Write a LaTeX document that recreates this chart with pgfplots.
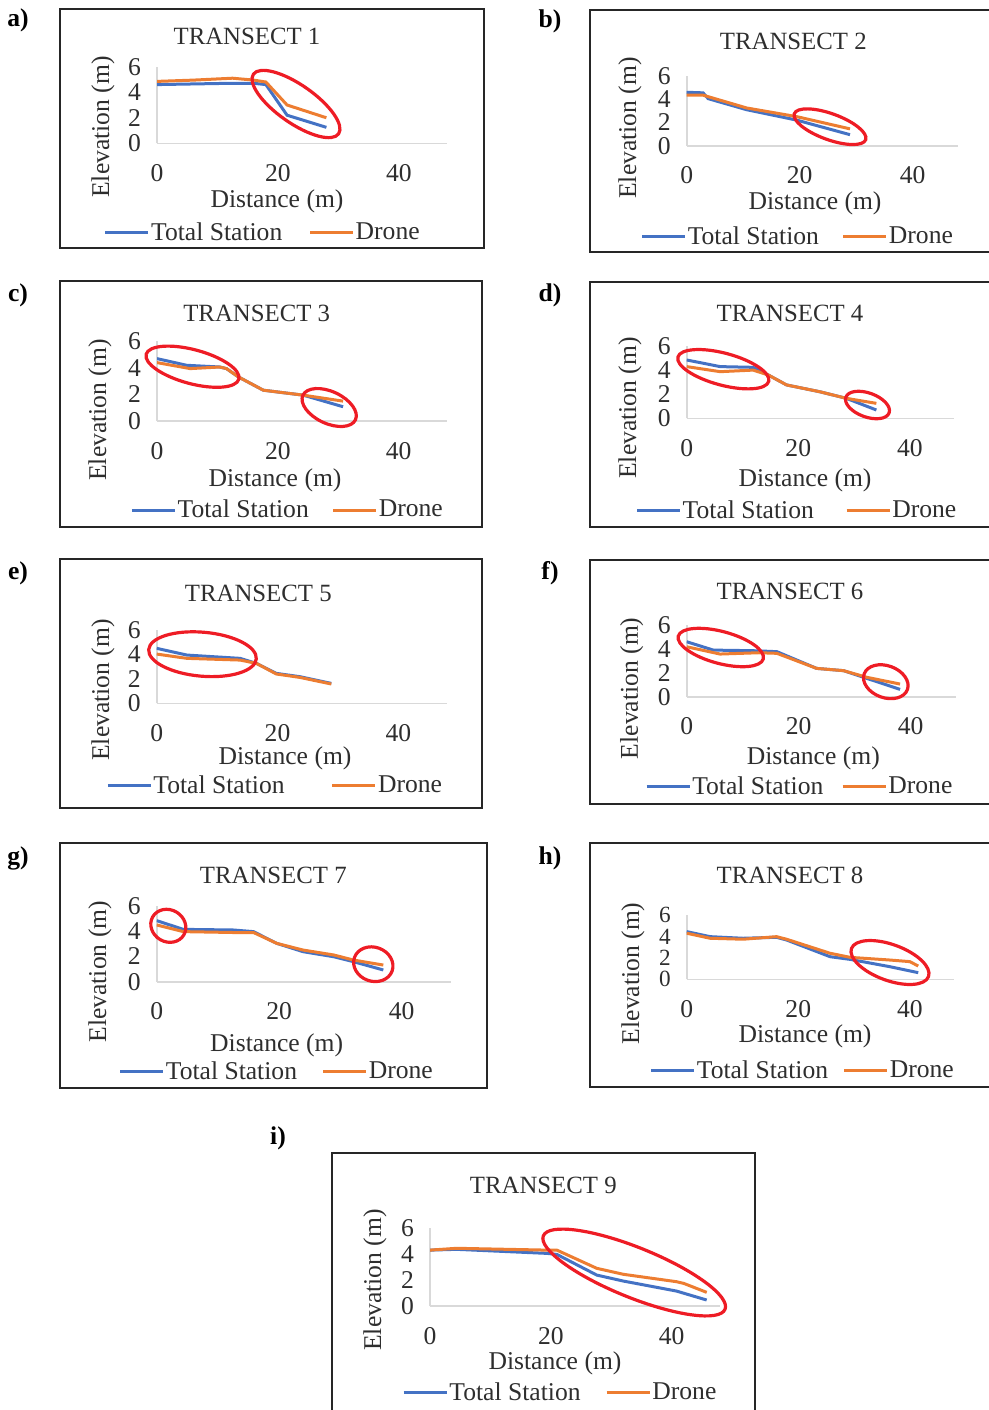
\documentclass[border=0pt]{standalone}
\usepackage{pgfplots}
\pgfplotsset{compat=1.18}
\usepackage{fontspec}
\setmainfont{Liberation Serif}
\definecolor{tsblue}{HTML}{4472C4}
\definecolor{drorange}{HTML}{ED7D31}
\definecolor{txt}{HTML}{2E2E2E}
\definecolor{axgray}{HTML}{D9D9D9}
\definecolor{ellred}{HTML}{EE1C25}
\newcommand{\fs}{\fontsize{12.8}{14}\selectfont}
\pgfplotsset{
 tr/.style={
  scale only axis, anchor=south west,
  xmin=0,xmax=48,ymin=0,ymax=6,
  xtick={0,20,40}, xticklabels={0,20,40},
  ytick={0,2,4,6}, yticklabels={0,2,4,6},
  axis x line*=bottom, axis y line*=left,
  axis line style={draw=axgray, line width=0.8pt, -},
  x axis line style={-}, y axis line style={-},
  major tick length=0pt, tick style={draw=none},
  ticklabel style={font=\fs, text=txt},
  yticklabel style={xshift=-4.5pt, inner ysep=0pt},
  xticklabel style={yshift=-7pt},
  legend columns=2,
  legend style={draw=none, fill=none, font=\fs, text=txt, anchor=center, inner sep=0pt,
    nodes={inner xsep=0.6pt}},
  legend image code/.code={\draw[##1, line width=1.5pt] (0pt,0pt) -- (21.5pt,0pt);},
  every axis plot/.append style={line width=1.5pt, no markers},
 },
 ts/.style={color=tsblue},
 dr/.style={color=drorange},
}
\begin{document}
\begin{tikzpicture}
\useasboundingbox (0,0) rectangle (494.5pt,-705pt);
% ---------- a
\begin{axis}[tr, at={(78.5pt,-71.65pt)}, width=145.2pt, height=38.3pt,
 legend style={at={(0.363,-1.171)}, /tikz/every even column/.append style={column sep=12.5pt}}]
\addplot[ts] coordinates {(0,4.6) (6,4.65) (12,4.7) (16,4.7) (18,4.6) (21.5,2.2) (28,1.25)};
\addplot[dr] coordinates {(0,4.85) (6,4.95) (12.5,5.1) (16,4.95) (18,4.8) (21.5,3.0) (28,2.0)};
\legend{Total Station, Drone}
\end{axis}
% ---------- b
\begin{axis}[tr, at={(343.35pt,-72.85pt)}, width=135.6pt, height=34.85pt,
 legend style={at={(0.408,-1.306)}, /tikz/every even column/.append style={column sep=10.8pt}}]
\addplot[ts] coordinates {(0,4.6) (2.9,4.55) (3.8,4.05) (10.6,3.1) (19.5,2.2) (28.9,0.95)};
\addplot[dr] coordinates {(0,4.35) (2.9,4.35) (10.6,3.25) (19.5,2.5) (28.9,1.45)};
\legend{Total Station, Drone}
\end{axis}
% ---------- c
\begin{axis}[tr, at={(78.5pt,-210.5pt)}, width=145pt, height=40pt,
 legend style={at={(0.449,-1.1125)}, /tikz/every even column/.append style={column sep=10.8pt}}]
\addplot[ts] coordinates {(0,4.68) (4.9,4.18) (10.4,4.05) (11.5,3.93) (13.5,3.3) (17.6,2.31) (24.2,1.94) (30.8,1.07)};
\addplot[dr] coordinates {(0,4.38) (5.5,3.93) (10.4,4.05) (11.5,3.93) (13.5,3.3) (17.6,2.31) (24.2,1.94) (30.8,1.49)};
\legend{Total Station, Drone}
\end{axis}
% ---------- d
\begin{axis}[tr, at={(343.35pt,-209.15pt)}, width=133.9pt, height=36.15pt,
 legend style={at={(0.410,-1.278)}, /tikz/every even column/.append style={column sep=15pt}}]
\addplot[ts] coordinates {(0,4.84) (6,4.29) (11.9,4.23) (14.6,3.6) (17.9,2.77) (23.9,2.2) (28.6,1.66) (34,0.69)};
\addplot[dr] coordinates {(0,4.29) (6,3.87) (11.9,4.0) (14.6,3.6) (17.9,2.77) (23.9,2.2) (28.6,1.66) (34,1.24)};
\legend{Total Station, Drone}
\end{axis}
% ---------- e
\begin{axis}[tr, at={(78.35pt,-351.65pt)}, width=145pt, height=36.65pt,
 legend style={at={(0.407,-1.128)}, /tikz/every even column/.append style={column sep=22.5pt}}]
\addplot[ts] coordinates {(0,4.5) (5,3.95) (13.8,3.68) (16.5,3.27) (19.8,2.45) (23.7,2.18) (28.9,1.63)};
\addplot[dr] coordinates {(0,4.03) (5,3.68) (13.8,3.54) (16.5,3.27) (19.8,2.4) (23.7,2.12) (28.9,1.58)};
\legend{Total Station, Drone}
\end{axis}
% ---------- f
\begin{axis}[tr, at={(343.35pt,-348.35pt)}, width=134.4pt, height=35.85pt,
 legend style={at={(0.419,-1.255)}, /tikz/every even column/.append style={column sep=8.3pt}}]
\addplot[ts] coordinates {(0,4.6) (4.76,3.9) (11.9,3.85) (16.1,3.77) (23.2,2.37) (28,2.18) (32.2,1.53) (38.1,0.61)};
\addplot[dr] coordinates {(0,4.18) (5.95,3.57) (12.9,3.68) (16.1,3.63) (23.2,2.37) (28,2.18) (32.2,1.62) (38.1,1.06)};
\legend{Total Station, Drone}
\end{axis}
% ---------- g
\begin{axis}[tr, at={(78.35pt,-490.85pt)}, width=147pt, height=37.85pt,
 legend style={at={(0.407,-1.189)}, /tikz/every even column/.append style={column sep=11.7pt}}]
\addplot[ts] coordinates {(0,4.84) (4.35,4.15) (12.5,4.1) (15.8,3.97) (19.6,3.04) (23.9,2.38) (28.9,1.98) (32.1,1.59) (37,0.93)};
\addplot[dr] coordinates {(0,4.5) (4.35,3.97) (12.5,3.9) (15.8,3.9) (19.6,3.04) (23.9,2.51) (28.9,2.12) (32.1,1.72) (37,1.32)};
\legend{Total Station, Drone}
\end{axis}
% ---------- h
\begin{axis}[tr, at={(343.35pt,-489.65pt)}, width=133.9pt, height=32.15pt,
 yticklabel style={font=\fontsize{11.6}{12}\selectfont},
 legend style={at={(0.432,-1.421)}, /tikz/every even column/.append style={column sep=6.7pt}}]
\addplot[ts] coordinates {(0,4.45) (4.2,3.98) (10.1,3.83) (16.1,3.92) (17.9,3.67) (25.7,2.11) (29.3,1.86) (36.4,1.18) (41.5,0.62)};
\addplot[dr] coordinates {(0,4.3) (4.2,3.83) (10.1,3.74) (16.1,3.98) (17.9,3.74) (25.7,2.43) (29.3,2.05) (36.4,1.8) (40,1.65) (41.5,1.24)};
\legend{Total Station, Drone}
\end{axis}
% ---------- i
\begin{axis}[tr, at={(215pt,-653pt)}, width=145pt, height=39pt,
 legend style={at={(0.448,-1.111)}, /tikz/every even column/.append style={column sep=11.7pt}}]
\addplot[ts] coordinates {(0,4.3) (4.4,4.36) (19.3,4.05) (21,3.97) (27.6,2.38) (32,1.92) (40.8,1.15) (45.8,0.46)};
\addplot[dr] coordinates {(0,4.3) (4.4,4.44) (19.3,4.3) (21,4.3) (27.6,2.9) (32,2.44) (40.8,1.87) (42,1.74) (45.8,1.05)};
\legend{Total Station, Drone}
\end{axis}
% ---------- annotations in pixel units
\begin{scope}[x=0.5pt,y=-0.5pt]
\tikzset{box/.style={draw=black!85, line width=1pt},
 ttl/.style={font=\fontsize{12.4}{14}\selectfont, text=txt},
 lab/.style={font=\fs, text=txt},
 pl/.style={font=\fs\bfseries, text=black},
 ell/.style={draw=ellred, line width=1.6pt}}
\draw[box] (59.5,9) rectangle (483.5,248);
\draw[box] (590,10) rectangle (1000,252);
\draw[box] (59.5,281) rectangle (481.7,526.7);
\draw[box] (589.5,281.7) rectangle (1000,526.7);
\draw[box] (59.5,559.3) rectangle (481.7,808.3);
\draw[box] (589.5,560) rectangle (1000,804);
\draw[box] (59.5,843.3) rectangle (486.7,1088.3);
\draw[box] (590,843.3) rectangle (1000,1086.7);
\draw[box] (331.7,1153.3) rectangle (755,1420);
% panel letters
\node[pl] at (18,20) {a)};
\node[pl] at (550,21.7) {b)};
\node[pl] at (18,295) {c)};
\node[pl] at (550,295) {d)};
\node[pl] at (18,573) {e)};
\node[pl] at (550,573) {f)};
\node[pl] at (18,858) {g)};
\node[pl] at (550,858) {h)};
\node[pl] at (278,1138) {i)};
% titles
\node[ttl] at (247,36) {TRANSECT 1};
\node[ttl] at (793.3,41.7) {TRANSECT 2};
\node[ttl] at (256.7,313.3) {TRANSECT 3};
\node[ttl] at (790,313.3) {TRANSECT 4};
\node[ttl] at (258.3,593.3) {TRANSECT 5};
\node[ttl] at (790,591.7) {TRANSECT 6};
\node[ttl] at (273.3,875) {TRANSECT 7};
\node[ttl] at (790,875) {TRANSECT 8};
\node[ttl] at (543.3,1185) {TRANSECT 9};
% x labels
\node[lab] at (277,201) {Distance (m)};
\node[lab] at (815,203) {Distance (m)};
\node[lab] at (275,480) {Distance (m)};
\node[lab] at (805,480) {Distance (m)};
\node[lab] at (285,758.3) {Distance (m)};
\node[lab] at (813.3,758.3) {Distance (m)};
\node[lab] at (276.7,1045) {Distance (m)};
\node[lab] at (805,1036.7) {Distance (m)};
\node[lab] at (555,1363.3) {Distance (m)};
% y labels
\node[lab,rotate=90] at (103,127) {Elevation (m)};
\node[lab,rotate=90] at (630,128) {Elevation (m)};
\node[lab,rotate=90] at (100,410) {Elevation (m)};
\node[lab,rotate=90] at (630,408) {Elevation (m)};
\node[lab,rotate=90] at (103,690) {Elevation (m)};
\node[lab,rotate=90] at (631.7,688.3) {Elevation (m)};
\node[lab,rotate=90] at (100,971.7) {Elevation (m)};
\node[lab,rotate=90] at (633,973.3) {Elevation (m)};
\node[lab,rotate=90] at (375,1280) {Elevation (m)};
% red ellipses
\draw[ell, rotate around={-35:(296,104)}] (296,104) ellipse [x radius=26pt, y radius=9.5pt];
\draw[ell, rotate around={-20:(830,126.7)}] (830,126.7) ellipse [x radius=19pt, y radius=6.5pt];
\draw[ell, rotate around={-15:(192.5,366.7)}] (192.5,366.7) ellipse [x radius=24pt, y radius=8.5pt];
\draw[ell, rotate around={-25:(329.2,407.5)}] (329.2,407.5) ellipse [x radius=14.5pt, y radius=8pt];
\draw[ell, rotate around={-15:(723.3,369.2)}] (723.3,369.2) ellipse [x radius=23.5pt, y radius=8pt];
\draw[ell, rotate around={-20:(867.5,405)}] (867.5,405) ellipse [x radius=11.5pt, y radius=6pt];
\draw[ell, rotate around={-5:(202.5,654.2)}] (202.5,654.2) ellipse [x radius=27pt, y radius=11pt];
\draw[ell, rotate around={-15:(720.8,647.5)}] (720.8,647.5) ellipse [x radius=22pt, y radius=8pt];
\draw[ell, rotate around={-20:(885.8,681.7)}] (885.8,681.7) ellipse [x radius=11.5pt, y radius=8pt];
\draw[ell, rotate around={-30:(168.3,925.8)}] (168.3,925.8) ellipse [x radius=9pt, y radius=8pt];
\draw[ell, rotate around={-20:(373.3,964.2)}] (373.3,964.2) ellipse [x radius=10pt, y radius=8.5pt];
\draw[ell, rotate around={-20:(890,962.5)}] (890,962.5) ellipse [x radius=20.5pt, y radius=9pt];
\draw[ell, rotate around={-22:(634.2,1272.5)}] (634.2,1272.5) ellipse [x radius=49pt, y radius=12.5pt];
\end{scope}
\end{tikzpicture}
\end{document}
